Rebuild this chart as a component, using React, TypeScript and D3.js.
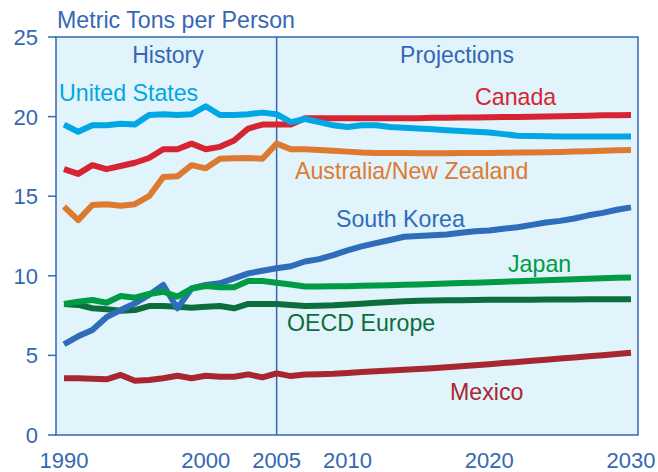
import React from "react";
import * as d3 from "d3";

const years = d3.range(1990, 2031);

const unitedStates = [
  19.5, 19.05, 19.45, 19.45, 19.55, 19.5, 20.1, 20.15, 20.1, 20.15, 20.65, 20.1, 20.1, 20.15, 20.25, 20.15,
  19.65, 19.85, 19.65, 19.45, 19.35, 19.45, 19.45, 19.35, 19.3, 19.25, 19.2, 19.15, 19.1, 19.05, 19.0,
  18.9, 18.8, 18.78, 18.76, 18.75, 18.75, 18.75, 18.75, 18.75, 18.75,
];
const canada = [
  16.7, 16.4, 16.95, 16.7, 16.9, 17.1, 17.4, 17.95, 17.95, 18.3, 17.95, 18.1, 18.5, 19.25, 19.5, 19.5,
  19.5, 19.9, 19.9, 19.9, 19.9, 19.9, 19.9, 19.9, 19.9, 19.9, 19.92, 19.93, 19.94, 19.95, 19.96,
  19.97, 19.98, 19.99, 20.0, 20.02, 20.04, 20.06, 20.08, 20.09, 20.1,
];
const australiaNz = [
  14.35, 13.5, 14.45, 14.5, 14.4, 14.5, 15.0, 16.2, 16.25, 16.95, 16.75, 17.35, 17.38, 17.4, 17.35, 18.3,
  17.95, 17.95, 17.9, 17.85, 17.8, 17.75, 17.72, 17.72, 17.72, 17.7, 17.7, 17.7, 17.71, 17.72, 17.72,
  17.73, 17.74, 17.75, 17.76, 17.78, 17.8, 17.83, 17.85, 17.88, 17.9,
];
const southKorea = [
  5.7, 6.2, 6.6, 7.4, 7.85, 8.27, 8.8, 9.42, 7.96, 9.2, 9.42, 9.53, 9.84, 10.15, 10.32, 10.47,
  10.6, 10.9, 11.05, 11.3, 11.6, 11.85, 12.05, 12.25, 12.45, 12.5, 12.55, 12.6, 12.7, 12.8, 12.85,
  12.95, 13.05, 13.2, 13.35, 13.45, 13.6, 13.8, 13.95, 14.15, 14.3,
];
const japan = [
  8.23, 8.37, 8.48, 8.31, 8.73, 8.62, 8.86, 9.0, 8.69, 9.2, 9.36, 9.28, 9.28, 9.67, 9.67, 9.57,
  9.45, 9.33, 9.33, 9.34, 9.35, 9.37, 9.39, 9.41, 9.43, 9.45, 9.48, 9.51, 9.54, 9.57, 9.6,
  9.63, 9.66, 9.69, 9.72, 9.75, 9.78, 9.81, 9.84, 9.87, 9.9,
];
const oecdEurope = [
  8.23, 8.17, 7.96, 7.9, 7.8, 7.85, 8.1, 8.1, 8.06, 8.0, 8.06, 8.1, 7.96, 8.23, 8.23, 8.23,
  8.17, 8.1, 8.12, 8.15, 8.2, 8.25, 8.3, 8.35, 8.4, 8.44, 8.45, 8.46, 8.47, 8.48, 8.49,
  8.5, 8.5, 8.5, 8.51, 8.51, 8.51, 8.52, 8.52, 8.52, 8.52,
];
const mexico = [
  3.56, 3.56, 3.53, 3.5, 3.77, 3.41, 3.45, 3.56, 3.72, 3.56, 3.72, 3.66, 3.66, 3.81, 3.62, 3.87,
  3.7, 3.8, 3.82, 3.85, 3.9, 3.95, 4.0, 4.05, 4.1, 4.15, 4.2, 4.26, 4.32, 4.38, 4.45,
  4.52, 4.59, 4.66, 4.73, 4.8, 4.87, 4.94, 5.01, 5.09, 5.17,
];

const yTicks = [0, 5, 10, 15, 20, 25];
const xTicks = [1990, 2000, 2005, 2010, 2020, 2030];

const series = [
  { name: "United States", values: unitedStates, color: "#00a7e4", lx: 59, ly: 101 },
  { name: "Canada", values: canada, color: "#d62432", lx: 475, ly: 105 },
  { name: "Australia/New Zealand", values: australiaNz, color: "#dd7a30", lx: 295, ly: 179 },
  { name: "South Korea", values: southKorea, color: "#2f6cb9", lx: 336, ly: 227 },
  { name: "Japan", values: japan, color: "#009b45", lx: 508, ly: 272 },
  { name: "OECD Europe", values: oecdEurope, color: "#0c6e3c", lx: 287, ly: 331 },
  { name: "Mexico", values: mexico, color: "#a8262f", lx: 450, ly: 400 },
];

const drawOrder = ["Mexico", "OECD Europe", "South Korea", "Japan", "Australia/New Zealand", "Canada", "United States"];

export default function App() {
  const W = 658;
  const H = 472;
  const plotLeft = 56;
  const plotRight = 638;
  const plotTop = 37;
  const plotBottom = 435;
  const x = d3.scaleLinear().domain([1990, 2030]).range([64, 631]);
  const y = d3.scaleLinear().domain([0, 25]).range([plotBottom, plotTop]);
  const axis = "#3567b3";
  const font = "'Liberation Sans', Arial, Helvetica, sans-serif";

  const line = d3
    .line<number>()
    .x((_, i) => x(years[i]))
    .y((d) => y(d));

  const ordered = drawOrder.map((n) => series.find((s) => s.name === n)!);

  return (
    <svg
      width={W}
      height={H}
      style={{ position: "absolute", left: 0, top: 0, background: "#fff" }}
      fontFamily={font}
    >
      <rect
        x={plotLeft}
        y={plotTop}
        width={plotRight - plotLeft}
        height={plotBottom - plotTop}
        fill="#e1f3fb"
        stroke={axis}
        strokeWidth={1.5}
      />
      <line x1={x(2005)} x2={x(2005)} y1={plotTop} y2={plotBottom} stroke={axis} strokeWidth={1.5} />
      {yTicks.map((t) => (
        <g key={t}>
          <line x1={48} x2={plotLeft} y1={y(t)} y2={y(t)} stroke={axis} strokeWidth={1.5} />
          <text x={38} y={y(t) + 8} textAnchor="end" fontSize={22} fill={axis}>
            {t}
          </text>
        </g>
      ))}
      {xTicks.map((t) => (
        <text key={t} x={x(t)} y={468} textAnchor="middle" fontSize={22} fill={axis}>
          {t}
        </text>
      ))}
      <text x={57} y={28} fontSize={23.2} fill={axis}>
        Metric Tons per Person
      </text>
      <text x={168} y={63} textAnchor="middle" fontSize={23} fill={axis}>
        History
      </text>
      <text x={457} y={63} textAnchor="middle" fontSize={23} fill={axis}>
        Projections
      </text>
      {ordered.map((s) => (
        <path
          key={s.name}
          d={line(s.values) || ""}
          fill="none"
          stroke={s.color}
          strokeWidth={6}
          strokeLinejoin="round"
          strokeLinecap="butt"
        />
      ))}
      {series.map((s) => (
        <text key={s.name + "l"} x={s.lx} y={s.ly} fontSize={23.2} fill={s.color}>
          {s.name}
        </text>
      ))}
    </svg>
  );
}
